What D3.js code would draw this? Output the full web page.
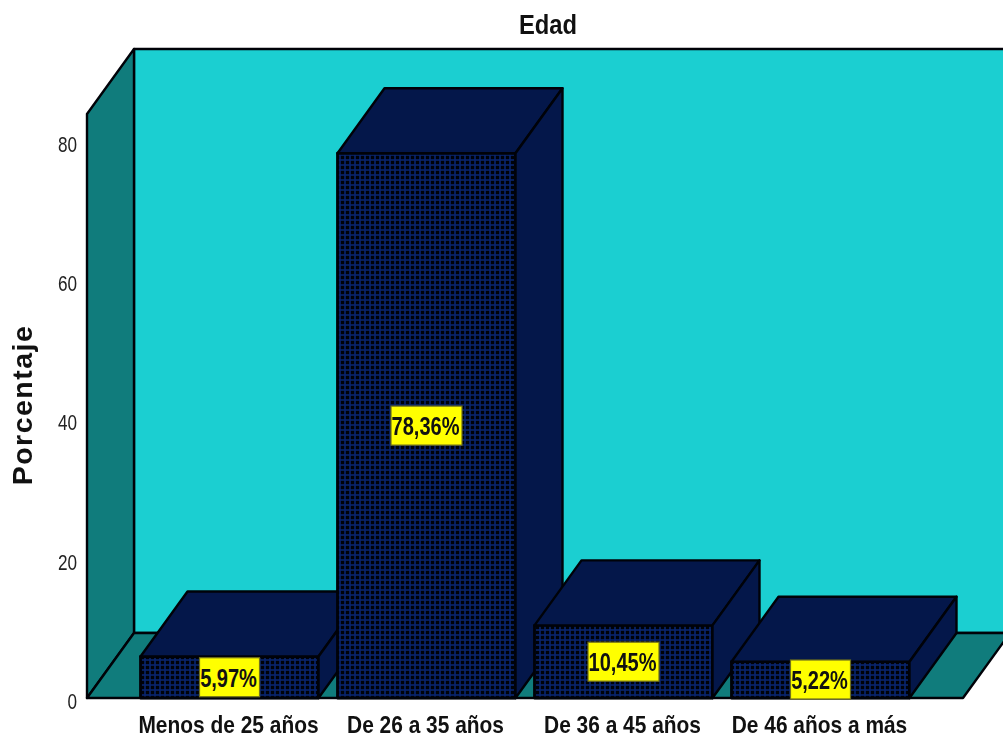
<!DOCTYPE html>
<html><head><meta charset="utf-8">
<script src="https://cdn.jsdelivr.net/npm/d3@7"></script>
<style>html,body{margin:0;padding:0;background:#fff;overflow:hidden}svg{display:block;filter:blur(.5px)}
text{fill:#111}</style></head><body>
<svg id="c" width="1003" height="738"></svg>
<script>
const categories=["Menos de 25 años","De 26 a 35 años","De 36 a 45 años","De 46 años a más"];
const values=[5.97,78.36,10.45,5.22];
const valueLabels=["5,97%","78,36%","10,45%","5,22%"];
const yTicks=[0,20,40,60,80];
const chartTitle="Edad", yTitle="Porcentaje";
const sans="'Liberation Sans',Arial,sans-serif";
const wall="#1bcfd1",side="#107c7c",navy="#04174a",ink="#000208";
const dx=47,dy=-65;
const y=d3.scaleLinear().domain([0,84]).range([698,114]);
const x=d3.scaleBand().domain(categories).range([87,963]).paddingInner(.0964).paddingOuter(.2716);
const svg=d3.select("#c");
const defs=svg.append("defs");
const P=5;
const pat=defs.append("pattern").attr("id","grid").attr("patternUnits","userSpaceOnUse").attr("width",P).attr("height",P);
pat.append("rect").attr("width",P).attr("height",P).attr("fill","#08246e");
pat.append("rect").attr("x",.8).attr("y",.8).attr("width",3.4).attr("height",3.4).attr("fill","#000208");
defs.append("clipPath").attr("id","page").append("rect").attr("width",1003).attr("height",738);
const g=svg.append("g").attr("clip-path","url(#page)");
const line=d3.line();
const poly=(pts,fill,sw=2.4)=>g.append("path").attr("d",line(pts)+"Z").attr("fill",fill).attr("stroke",ink).attr("stroke-width",sw).attr("stroke-linejoin","round");
const [L,R]=x.range(),B=y(0),T=y(84);
poly([[L+dx,T+dy],[R+dx,T+dy],[R+dx,B+dy],[L+dx,B+dy]],wall);
poly([[L,B],[L+dx,B+dy],[L+dx,T+dy],[L,T]],side);
poly([[L,B],[R,B],[R+dx,B+dy],[L+dx,B+dy]],side);
categories.forEach((c,i)=>{
  const a=x(c),b=a+x.bandwidth(),t=y(values[i]);
  poly([[a,t],[b,t],[b,B],[a,B]],"url(#grid)",2.8);
  poly([[a,t],[a+dx,t+dy],[b+dx,t+dy],[b,t]],navy);
  poly([[b,t],[b+dx,t+dy],[b+dx,B+dy],[b,B]],navy);
});
categories.forEach((c,i)=>{
  const cx=x(c)+x.bandwidth()/2,cy=Math.min(y(values[i]/2),679.5);
  const w=valueLabels[i].length>5?71:60;
  g.append("rect").attr("x",cx-w/2).attr("y",cy-19.5).attr("width",w).attr("height",39).attr("fill","#ffff00").attr("stroke","#70701c").attr("stroke-width",1.2);
  g.append("text").attr("transform",`translate(${cx-1},${cy+9.5}) scale(.77,1)`).attr("text-anchor","middle")
   .attr("font-family",sans).attr("font-weight","bold").attr("font-size",26).text(valueLabels[i]);
});
const ay=svg.append("g").attr("transform","translate(77,3)").call(d3.axisLeft(y).tickValues(yTicks).tickSize(0).tickPadding(0));
ay.select(".domain").remove();
ay.selectAll("text").attr("font-family",sans).attr("font-size",22).attr("transform","scale(.78,1)").style("fill","#222");
const ax=svg.append("g").attr("transform","translate(-1,725)").call(d3.axisBottom(x).tickSize(0).tickPadding(0));
ax.select(".domain").remove();
ax.selectAll("text").attr("font-family",sans).attr("font-weight","bold").attr("font-size",23).attr("dy","0.35em").attr("transform","scale(.91,1)").style("fill","#111");
svg.append("text").attr("transform","translate(548,34) scale(.88,1)").attr("text-anchor","middle").attr("font-family",sans).attr("font-weight","bold").attr("font-size",27).text(chartTitle);
svg.append("text").attr("transform","translate(32,405) rotate(-90)").attr("text-anchor","middle").attr("font-family",sans).attr("font-weight","bold").attr("font-size",28.5).attr("letter-spacing",1.5).text(yTitle);
</script></body></html>
